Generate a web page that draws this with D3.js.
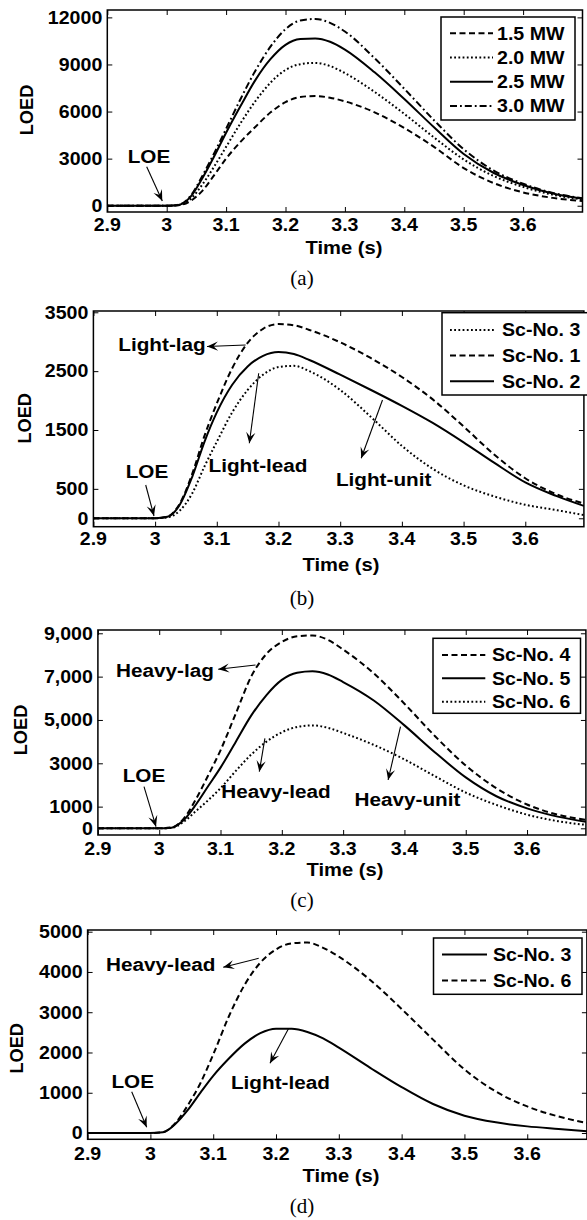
<!DOCTYPE html>
<html><head><meta charset="utf-8">
<script src="https://cdn.jsdelivr.net/npm/d3@7"></script>
<style>body{margin:0;background:#fff}svg{display:block}</style>
</head><body>
<svg id="chart" width="587" height="1220"></svg>
<script>
// ---------------- DATA ----------------
const xTickValues = [2.9, 3.0, 3.1, 3.2, 3.3, 3.4, 3.5, 3.6];
const xTickLabels = ["2.9", "3", "3.1", "3.2", "3.3", "3.4", "3.5", "3.6"];

// Panel (a)
const timeA = [2.9, 3.0, 3.02, 3.04, 3.06, 3.08, 3.1, 3.125, 3.15, 3.175, 3.2, 3.225, 3.25, 3.275, 3.3, 3.35, 3.4, 3.45, 3.5, 3.55, 3.6, 3.65, 3.7];
const mw15 = [0, 0, 30, 300, 950, 1950, 3000, 4100, 5050, 5950, 6600, 6930, 6990, 6880, 6650, 5950, 4950, 3750, 2400, 1450, 850, 500, 300];
const mw20 = [0, 0, 40, 420, 1350, 2500, 3750, 5300, 6700, 7850, 8650, 9020, 9100, 8900, 8450, 7250, 5850, 4350, 2950, 1900, 1200, 700, 400];
const mw25 = [0, 0, 50, 560, 1750, 3150, 4650, 6400, 8050, 9350, 10250, 10620, 10660, 10450, 9950, 8500, 6800, 5000, 3300, 2100, 1320, 780, 450];
const mw30 = [0, 0, 60, 620, 1900, 3350, 4900, 6850, 8650, 10150, 11250, 11800, 11900, 11650, 11100, 9400, 7450, 5450, 3600, 2250, 1400, 820, 470];
const yTicksA = [0, 3000, 6000, 9000, 12000];
const yLabelsA = ["0", "3000", "6000", "9000", "12000"];
const namesA = ["1.5 MW", "2.0 MW", "2.5 MW", "3.0 MW"];

// Panel (b)
const timeB = [2.9, 3.0, 3.02, 3.04, 3.06, 3.08, 3.1, 3.125, 3.15, 3.175, 3.2, 3.225, 3.25, 3.3, 3.35, 3.4, 3.45, 3.5, 3.55, 3.6, 3.65, 3.695];
const scB3 = [0, 0, 15, 130, 420, 880, 1300, 1800, 2180, 2440, 2570, 2590, 2500, 2180, 1720, 1230, 840, 560, 370, 230, 140, 55];
const scB1 = [0, 0, 30, 250, 750, 1400, 1950, 2550, 2980, 3220, 3300, 3280, 3200, 2990, 2720, 2400, 2020, 1560, 1080, 680, 410, 250];
const scB2 = [0, 0, 25, 230, 700, 1300, 1800, 2270, 2580, 2760, 2825, 2790, 2690, 2440, 2180, 1910, 1620, 1290, 940, 610, 380, 210];
const yTicksB = [0, 500, 1500, 2500, 3500];
const yLabelsB = ["0", "500", "1500", "2500", "3500"];
const namesB = ["Sc-No. 3", "Sc-No. 1", "Sc-No. 2"];

// Panel (c)
const timeC = [2.9, 3.0, 3.02, 3.04, 3.06, 3.08, 3.1, 3.125, 3.15, 3.175, 3.2, 3.225, 3.25, 3.275, 3.3, 3.35, 3.4, 3.45, 3.5, 3.55, 3.6, 3.65, 3.696];
const scC4 = [0, 0, 40, 450, 1350, 2450, 3600, 5300, 7000, 8050, 8600, 8860, 8900, 8700, 8250, 7150, 5750, 4250, 2900, 1850, 1100, 630, 390];
const scC5 = [0, 0, 30, 380, 1100, 1950, 2800, 4000, 5200, 6150, 6850, 7180, 7250, 7100, 6750, 5900, 4750, 3500, 2350, 1480, 920, 540, 305];
const scC6 = [0, 0, 20, 300, 800, 1300, 1850, 2650, 3400, 4000, 4430, 4680, 4750, 4640, 4400, 3850, 3180, 2400, 1650, 1080, 630, 330, 160];
const yTicksC = [0, 1000, 3000, 5000, 7000, 9000];
const yLabelsC = ["0", "1000", "3000", "5,000", "7,000", "9,000"];
const namesC = ["Sc-No. 4", "Sc-No. 5", "Sc-No. 6"];

// Panel (d)
const timeD = [2.9, 3.0, 3.02, 3.04, 3.06, 3.08, 3.1, 3.125, 3.15, 3.175, 3.2, 3.225, 3.25, 3.275, 3.3, 3.35, 3.4, 3.45, 3.5, 3.55, 3.6, 3.65, 3.695];
const scD3 = [0, 0, 20, 230, 580, 1010, 1420, 1850, 2220, 2480, 2590, 2590, 2510, 2350, 2120, 1620, 1140, 720, 430, 265, 165, 100, 45];
const scD6 = [0, 0, 25, 250, 700, 1250, 1950, 2900, 3680, 4230, 4560, 4710, 4730, 4600, 4380, 3800, 3080, 2320, 1580, 1030, 660, 410, 250];
const yTicksD = [0, 1000, 2000, 3000, 4000, 5000];
const yLabelsD = ["0", "1000", "2000", "3000", "4000", "5000"];
const namesD = ["Sc-No. 3", "Sc-No. 6"];

// ---------------- STYLE / LAYOUT ----------------
const SANS = "'Liberation Sans', Arial, Helvetica, sans-serif";
const SERIF = "'Liberation Serif', 'Times New Roman', serif";
const FS = 17.5, SX = 1.12, NOTE_FS = 18.5;
const DASHED = "6,3.5", DOTTED = "1.8,2.4", DASHDOT = "7,3,1.8,3", SOLID = null;

const svg = d3.select("#chart");

function txt(sel, x, y, s, o = {}) {
  const size = o.size || FS, sx = o.sx || SX, rot = o.rot || 0;
  return sel.append("text")
    .attr("transform", `translate(${x},${y}) rotate(${rot}) scale(${sx},1)`)
    .attr("dy", 0.36 * size)
    .attr("text-anchor", o.anchor || "start")
    .style("font-family", o.family || SANS)
    .style("font-weight", o.weight || "bold")
    .style("font-size", size + "px")
    .attr("fill", "#000")
    .text(s);
}

function arrow(sel, x1, y1, x2, y2) {
  sel.append("line").attr("x1", x1).attr("y1", y1).attr("x2", x2).attr("y2", y2)
    .attr("stroke", "#000").attr("stroke-width", 1.1);
  const a = Math.atan2(y2 - y1, x2 - x1), L = 11, W = 4.6, N = 6.5;
  const ux = Math.cos(a), uy = Math.sin(a), px = -uy, py = ux;
  const pts = [
    [x2, y2],
    [x2 - L * ux + W * px, y2 - L * uy + W * py],
    [x2 - N * ux, y2 - N * uy],
    [x2 - L * ux - W * px, y2 - L * uy - W * py]
  ];
  sel.append("path").attr("d", "M" + pts.map(p => p.join(",")).join("L") + "Z").attr("fill", "#000");
}

const panels = [
  {
    id: "a", times: timeA, xDom: [2.9, 3.7], left: 107.3, right: 582.5, top: 10, bottom: 212, yDom: [-400, 12470],
    yTicks: yTicksA, yLabels: yLabelsA,
    series: [{ v: mw15, dash: DASHED }, { v: mw20, dash: DOTTED }, { v: mw25, dash: SOLID }, { v: mw30, dash: DASHDOT }],
    names: namesA,
    legend: { x0: 441, x1: 575, y0: 17, y1: 120, rows: [33.3, 57.5, 81.8, 106], l0: 450, l1: 493, tx: 497 },
    ylab: [26.7, 110], xlab: [344, 248], cap: [302, 277], xlabOff: 12.5,
    notes: [{ t: "LOE", x: 149, y: 156, anchor: "middle", ar: [146.7, 166.7, 162.3, 201] }]
  },
  {
    id: "b", times: timeB, xDom: [2.9, 3.695], left: 93.4, right: 583.9, top: 311, bottom: 526.7, yDom: [-143, 3522],
    yTicks: yTicksB, yLabels: yLabelsB,
    series: [{ v: scB3, dash: DOTTED }, { v: scB1, dash: DASHED }, { v: scB2, dash: SOLID }],
    names: namesB,
    legend: { x0: 442, x1: 592, y0: 312.7, y1: 395, rows: [330, 355.5, 381.3], l0: 450, l1: 494, tx: 502 },
    ylab: [25, 418.3], xlab: [341, 565], cap: [302, 597], xlabOff: 11.5,
    notes: [
      { t: "LOE", x: 147, y: 471, anchor: "middle", ar: [145.7, 485, 154, 516] },
      { t: "Light-lag", x: 118.3, y: 344.3, anchor: "start", ar: [245.6, 345, 207, 346.5] },
      { t: "Light-lead", x: 258, y: 465, anchor: "middle", ar: [258.7, 373.3, 249.3, 443.3] },
      { t: "Light-unit", x: 383.6, y: 479, anchor: "middle", ar: [382.5, 400, 361.2, 458.3] }
    ]
  },
  {
    id: "c", times: timeC, xDom: [2.9, 3.696], left: 97.9, right: 585.9, top: 630, bottom: 835, yDom: [-309, 9152],
    yTicks: yTicksC, yLabels: yLabelsC,
    series: [{ v: scC4, dash: DASHED }, { v: scC5, dash: SOLID }, { v: scC6, dash: DOTTED }],
    names: namesC,
    legend: { x0: 433, x1: 580.5, y0: 638.3, y1: 713.3, rows: [655, 678.3, 701.7], l0: 442, l1: 485.3, tx: 492 },
    ylab: [20.7, 730], xlab: [345, 870], cap: [302, 899], xlabOff: 13.5,
    notes: [
      { t: "LOE", x: 144, y: 775.7, anchor: "middle", ar: [144, 786.7, 156, 826.7] },
      { t: "Heavy-lag", x: 116, y: 670, anchor: "start", ar: [255.5, 665, 218.2, 669.3] },
      { t: "Heavy-lead", x: 276, y: 791.7, anchor: "middle", ar: [264.9, 738.3, 259.3, 771.7] },
      { t: "Heavy-unit", x: 407.5, y: 799, anchor: "middle", ar: [400.5, 726.7, 388.1, 780] }
    ]
  },
  {
    id: "d", times: timeD, xDom: [2.9, 3.695], left: 87.6, right: 586.9, top: 930, bottom: 1139.3, yDom: [-156, 5042],
    yTicks: yTicksD, yLabels: yLabelsD,
    series: [{ v: scD3, dash: SOLID }, { v: scD6, dash: DASHED }],
    names: namesD,
    legend: { x0: 433.5, x1: 582, y0: 938, y1: 994.3, rows: [954.5, 980.5], l0: 442, l1: 487, tx: 493 },
    ylab: [16.7, 1048.3], xlab: [341, 1176], cap: [302, 1205], xlabOff: 14,
    notes: [
      { t: "LOE", x: 132.7, y: 1081, anchor: "middle", ar: [131.7, 1091.7, 146.7, 1127.3] },
      { t: "Heavy-lead", x: 106, y: 964.3, anchor: "start", ar: [258.7, 958.3, 223.2, 967.3] },
      { t: "Light-lead", x: 280.4, y: 1082.3, anchor: "middle", ar: [288.7, 1028.3, 270, 1063.3] }
    ]
  }
];

panels.forEach(p => {
  const g = svg.append("g");
  const x = d3.scaleLinear().domain(p.xDom).range([p.left, p.right]);
  const y = d3.scaleLinear().domain(p.yDom).range([p.bottom, p.top]);

  const clipId = "clip-" + p.id;
  svg.append("clipPath").attr("id", clipId).append("rect")
    .attr("x", p.left).attr("y", p.top).attr("width", p.right - p.left).attr("height", p.bottom - p.top);

  // curves
  const line = d3.line().x(d => x(d[0])).y(d => y(d[1])).curve(d3.curveMonotoneX);
  const cg = g.append("g").attr("clip-path", `url(#${clipId})`);
  p.series.forEach(s => {
    cg.append("path").datum(p.times.map((t, i) => [t, s.v[i]]))
      .attr("d", line).attr("fill", "none").attr("stroke", "#000").attr("stroke-width", 2)
      .attr("stroke-dasharray", s.dash);
  });

  // axes (inward ticks on all four sides); labels placed from the same scales
  const styleAxis = sel => {
    sel.select(".domain").remove();
    sel.selectAll(".tick line").attr("stroke", "#000").attr("stroke-width", 1);
  };
  g.append("g").attr("transform", `translate(0,${p.bottom})`)
    .call(d3.axisBottom(x).tickValues(xTickValues).tickFormat(() => "").tickSize(-5)).call(styleAxis);
  g.append("g").attr("transform", `translate(0,${p.top})`)
    .call(d3.axisTop(x).tickValues(xTickValues).tickFormat(() => "").tickSize(-5)).call(styleAxis);
  g.append("g").attr("transform", `translate(${p.left},0)`)
    .call(d3.axisLeft(y).tickValues(p.yTicks).tickFormat(() => "").tickSize(-5)).call(styleAxis);
  g.append("g").attr("transform", `translate(${p.right},0)`)
    .call(d3.axisRight(y).tickValues(p.yTicks).tickFormat(() => "").tickSize(-5)).call(styleAxis);

  xTickValues.forEach((v, i) => txt(g, x(v), p.bottom + p.xlabOff, xTickLabels[i], { anchor: "middle" }));
  p.yTicks.forEach((v, i) => txt(g, p.left - 5, y(v), p.yLabels[i], { anchor: "end" }));

  // frame
  g.append("rect").attr("x", p.left).attr("y", p.top)
    .attr("width", p.right - p.left).attr("height", p.bottom - p.top)
    .attr("fill", "none").attr("stroke", "#000").attr("stroke-width", 1.5);

  // legend
  const L = p.legend;
  g.append("rect").attr("x", L.x0).attr("y", L.y0).attr("width", L.x1 - L.x0).attr("height", L.y1 - L.y0)
    .attr("fill", "#fff").attr("stroke", "#000").attr("stroke-width", 1.5);
  p.series.forEach((s, i) => {
    g.append("line").attr("x1", L.l0).attr("x2", L.l1).attr("y1", L.rows[i]).attr("y2", L.rows[i])
      .attr("stroke", "#000").attr("stroke-width", 2).attr("stroke-dasharray", s.dash);
    txt(g, L.tx, L.rows[i], p.names[i]);
  });

  // axis titles and caption
  txt(g, p.ylab[0], p.ylab[1], "LOED", { anchor: "middle", rot: -90, sx: 1.04 });
  txt(g, p.xlab[0], p.xlab[1], "Time (s)", { anchor: "middle", size: 18 });
  txt(g, p.cap[0], p.cap[1], `(${p.id})`, { anchor: "middle", family: SERIF, weight: "normal", size: 21, sx: 1 });

  // annotations
  p.notes.forEach(n => {
    txt(g, n.x, n.y, n.t, { anchor: n.anchor, size: NOTE_FS });
    arrow(g, n.ar[0], n.ar[1], n.ar[2], n.ar[3]);
  });
});
</script>
</body></html>
